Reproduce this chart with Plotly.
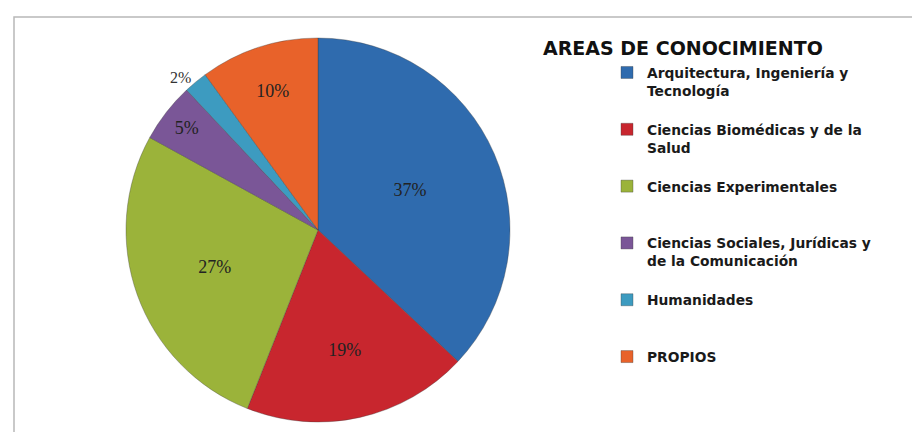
import plotly.graph_objects as go

labels = [
    "Arquitectura, Ingeniería y<br>Tecnología",
    "Ciencias Biomédicas y de la<br>Salud",
    "Ciencias Experimentales<br> ",
    "Ciencias Sociales, Jurídicas y<br>de la Comunicación",
    "Humanidades<br> ",
    "PROPIOS<br> ",
]
values = [37, 19, 27, 5, 2, 10]
colors = ["#2F6BAE", "#C8262E", "#9BB33A", "#7A5697", "#3D9BC0", "#E8622A"]
legend_title = "AREAS DE CONOCIMIENTO"

fig = go.Figure()
fig.add_trace(go.Pie(
    labels=[l + "<br> " for l in labels],
    values=values,
    sort=False,
    direction="clockwise",
    rotation=0,
    marker=dict(colors=colors, line=dict(color="rgba(60,60,60,0.35)", width=1)),
    textinfo="percent",
    texttemplate="%{percent:.0%}",
    textposition=["inside", "inside", "inside", "inside", "outside", "inside"],
    insidetextorientation="horizontal",
    textfont=dict(family="Liberation Serif", size=18, color="#222222"),
    outsidetextfont=dict(family="Liberation Serif", size=16, color="#333333"),
    domain=dict(x=[(310 - 192) / 920, (310 + 192) / 920], y=[(210 - 192) / 432, (210 + 192) / 432]),
    hoverinfo="label+percent",
))

fig.update_layout(
    width=920, height=432,
    margin=dict(l=0, r=0, t=0, b=0),
    paper_bgcolor="white",
    plot_bgcolor="white",
    showlegend=True,
    legend=dict(
        x=599 / 920, y=1 - 49 / 432, xanchor="left", yanchor="top",
        valign="top",
        font=dict(family="DejaVu Sans", size=13.8, color="#1a1a1a", weight="bold"),
        bgcolor="rgba(0,0,0,0)",
        itemclick=False,
    ),
    annotations=[dict(
        text="<b>" + legend_title + "</b>",
        x=533 / 920, y=1 - 40 / 432, xref="paper", yref="paper",
        xanchor="left", yanchor="middle", showarrow=False,
        font=dict(family="DejaVu Sans", size=19, color="#111111", weight="bold"),
    )],
    shapes=[dict(
        type="rect", xref="paper", yref="paper",
        x0=6 / 920, x1=1.01, y0=(432 - 428) / 432, y1=(432 - 9) / 432,
        line=dict(color="#b8b8b8", width=1.5),
    )],
)

fig.write_html("out.html")
